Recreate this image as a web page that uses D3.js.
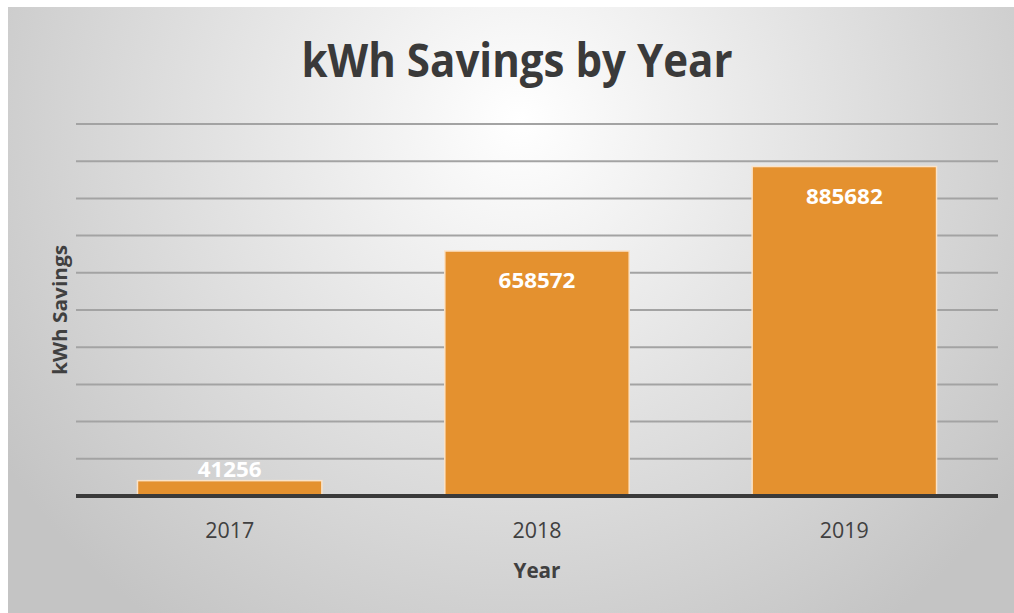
<!DOCTYPE html>
<html>
<head>
<meta charset="utf-8">
<script src="https://cdn.jsdelivr.net/npm/d3@7"></script>
<style>
  body { margin: 0; background: #fff; }
  text { font-family: "Open Sans", "Noto Sans", sans-serif; }
</style>
</head>
<body>
<script>
// chart data
var years = ["2017", "2018", "2019"];
var savings = [41256, 658572, 885682];
var yTicks = [0, 100000, 200000, 300000, 400000, 500000, 600000, 700000, 800000, 900000, 1000000];

var width = 1014, height = 613;
var margin = {top: 124, right: 16, bottom: 117, left: 76};

var svg = d3.select("body").append("svg")
    .attr("width", width)
    .attr("height", height);

// radial background like the office chart style
var grad = svg.append("defs").append("radialGradient")
    .attr("id", "bg")
    .attr("gradientUnits", "userSpaceOnUse")
    .attr("cx", 520).attr("cy", 120).attr("r", 620);
grad.append("stop").attr("offset", "0%").attr("stop-color", "#ffffff");
grad.append("stop").attr("offset", "100%").attr("stop-color", "#c4c4c4");

svg.append("rect")
    .attr("x", 8).attr("y", 7)
    .attr("width", width - 8).attr("height", height - 7)
    .attr("fill", "url(#bg)");

var x = d3.scaleBand()
    .domain(years)
    .range([margin.left, width - margin.right])
    .paddingInner(0.4)
    .paddingOuter(0.2);

var y = d3.scaleLinear()
    .domain([0, 1000000])
    .range([height - margin.bottom, margin.top]);

// gridlines
svg.selectAll("line.grid")
    .data(yTicks.slice(1))
    .enter()
    .append("line")
    .attr("class", "grid")
    .attr("x1", margin.left)
    .attr("x2", width - margin.right)
    .attr("y1", function (d) { return y(d); })
    .attr("y2", function (d) { return y(d); })
    .attr("stroke", "#a3a3a3")
    .attr("stroke-width", 2);

// bars
svg.selectAll("rect.bar")
    .data(savings)
    .enter()
    .append("rect")
    .attr("class", "bar")
    .attr("x", function (d, i) { return x(years[i]); })
    .attr("y", function (d) { return y(d); })
    .attr("width", x.bandwidth())
    .attr("height", function (d) { return y(0) - y(d); })
    .attr("fill", "#e4912f")
    .attr("stroke", "#fbe3c8")
    .attr("stroke-width", 1.5);

// baseline
svg.append("line")
    .attr("x1", margin.left)
    .attr("x2", width - margin.right)
    .attr("y1", y(0))
    .attr("y2", y(0))
    .attr("stroke", "#3a3a3a")
    .attr("stroke-width", 4);

// value labels (inside the bar if it is tall enough)
svg.selectAll("text.val")
    .data(savings)
    .enter()
    .append("text")
    .attr("class", "val")
    .text(function (d) { return d; })
    .attr("x", function (d, i) { return x(years[i]) + x.bandwidth() / 2; })
    .attr("y", function (d) {
        var h = y(0) - y(d);
        return h > 40 ? y(d) + 37 : y(d) - 4;
    })
    .attr("text-anchor", "middle")
    .attr("font-size", "22px")
    .attr("textLength", function (d) { return String(d).length * 12.8; })
    .attr("lengthAdjust", "spacingAndGlyphs")
    .attr("font-weight", "bold")
    .attr("fill", "#ffffff");

// x tick labels
svg.selectAll("text.tick")
    .data(years)
    .enter()
    .append("text")
    .attr("class", "tick")
    .text(function (d) { return d; })
    .attr("x", function (d) { return x(d) + x.bandwidth() / 2; })
    .attr("y", 538)
    .attr("text-anchor", "middle")
    .attr("font-size", "21px")
    .attr("textLength", 49)
    .attr("lengthAdjust", "spacingAndGlyphs")
    .attr("fill", "#404040");

// title and axis titles
svg.append("text")
    .text("kWh Savings by Year")
    .attr("x", 517)
    .attr("y", 77)
    .attr("text-anchor", "middle")
    .attr("font-size", "46px")
    .attr("textLength", 431)
    .attr("lengthAdjust", "spacingAndGlyphs")
    .attr("font-weight", "bold")
    .attr("fill", "#3a3a3a");

svg.append("text")
    .text("Year")
    .attr("x", 537)
    .attr("y", 578)
    .attr("text-anchor", "middle")
    .attr("font-size", "21px")
    .attr("textLength", 47)
    .attr("lengthAdjust", "spacingAndGlyphs")
    .attr("font-weight", "bold")
    .attr("fill", "#404040");

svg.append("text")
    .text("kWh Savings")
    .attr("transform", "translate(67,310) rotate(-90)")
    .attr("text-anchor", "middle")
    .attr("font-size", "20px")
    .attr("textLength", 130)
    .attr("lengthAdjust", "spacingAndGlyphs")
    .attr("font-weight", "bold")
    .attr("fill", "#404040");
</script>
</body>
</html>
